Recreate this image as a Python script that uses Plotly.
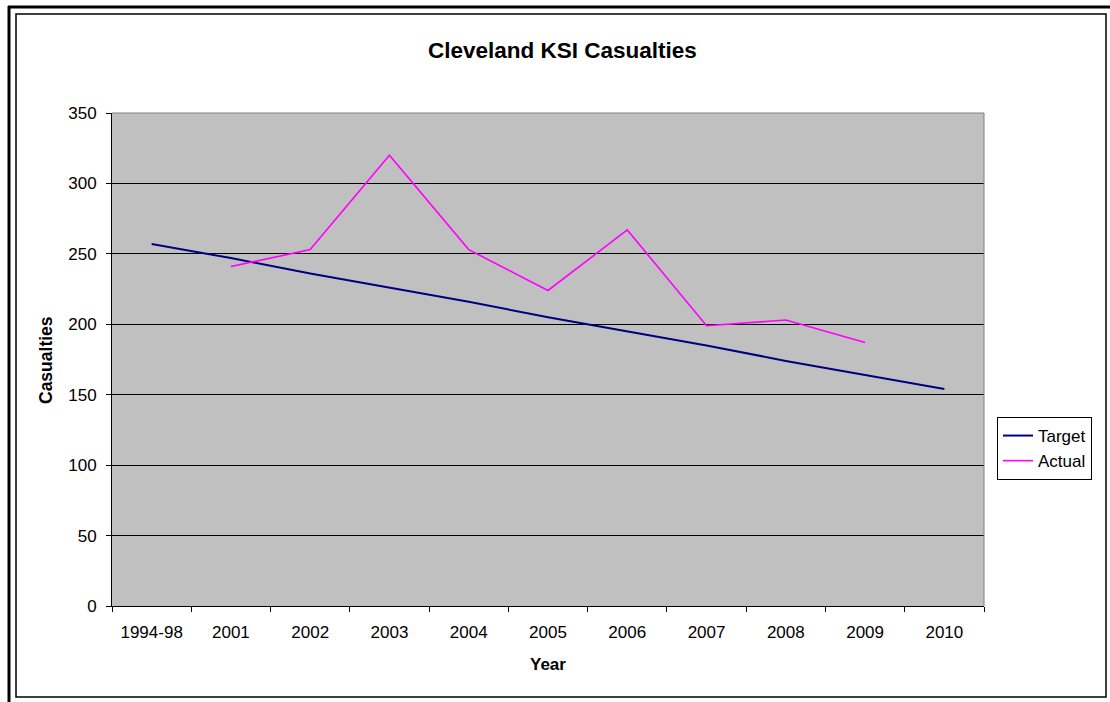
import plotly.graph_objects as go

# Data
years = ["1994-98", "2001", "2002", "2003", "2004", "2005",
         "2006", "2007", "2008", "2009", "2010"]
target = [257, 247, 236, 226, 216, 205, 195, 185, 174, 164, 154]
actual_years = ["2001", "2002", "2003", "2004", "2005",
                "2006", "2007", "2008", "2009"]
actual = [241, 253, 320, 253, 224, 267, 199, 203, 187]
y_ticks = [0, 50, 100, 150, 200, 250, 300, 350]

W, H = 1110, 702
L, R, T, B = 112, 984, 113, 606  # plot area in pixels
FONT = "Liberation Sans, Arial, sans-serif"


def px(x):
    return (x - L) / (R - L)


def py(y):
    return (B - y) / (B - T)


fig = go.Figure()
fig.add_trace(go.Scatter(x=years, y=target, mode="lines", name="Target",
                         line=dict(color="#000080", width=2)))
fig.add_trace(go.Scatter(x=actual_years, y=actual, mode="lines", name="Actual",
                         line=dict(color="#FF00FF", width=1.6)))

shapes = [
    # outer frame (left and top edges)
    dict(type="line", xref="paper", yref="paper", x0=px(9), x1=px(9),
         y0=py(6), y1=py(702), line=dict(color="black", width=3)),
    dict(type="line", xref="paper", yref="paper", x0=px(8), x1=px(1110),
         y0=py(7), y1=py(7), line=dict(color="black", width=3)),
    # chart area border
    dict(type="rect", xref="paper", yref="paper", x0=px(16), x1=px(1106),
         y0=py(14), y1=py(697), line=dict(color="black", width=1.5)),
    # plot area border, top and right
    dict(type="line", xref="paper", yref="paper", x0=0, x1=1, y0=1, y1=1,
         line=dict(color="#808080", width=1), layer="above"),
    dict(type="line", xref="paper", yref="paper", x0=1, x1=1, y0=0, y1=1,
         line=dict(color="#808080", width=1), layer="above"),
]

annotations = [
    dict(text="<b>Cleveland KSI Casualties</b>", xref="paper", yref="paper",
         x=px(562), y=py(51), showarrow=False, xanchor="center", yanchor="middle",
         font=dict(family=FONT, size=22.5, color="black")),
    dict(text="<b>Year</b>", xref="paper", yref="paper",
         x=px(548), y=py(664), showarrow=False, xanchor="center", yanchor="middle",
         font=dict(family=FONT, size=17, color="black")),
    dict(text="<b>Casualties</b>", xref="paper", yref="paper",
         x=px(46), y=py(360), showarrow=False, xanchor="center", yanchor="middle",
         textangle=-90, font=dict(family=FONT, size=17.5, color="black")),
]

fig.update_layout(
    width=W, height=H,
    margin=dict(l=L, r=W - R, t=T, b=H - B, pad=0),
    paper_bgcolor="white",
    plot_bgcolor="#C0C0C0",
    font=dict(family=FONT, size=17, color="black"),
    shapes=shapes,
    annotations=annotations,
    showlegend=True,
    legend=dict(x=px(997), y=py(417), xanchor="left", yanchor="top",
                bgcolor="white", bordercolor="black", borderwidth=1,
                font=dict(family=FONT, size=17, color="black"),
                tracegroupgap=0),
)

fig.update_xaxes(
    type="category", categoryorder="array", categoryarray=years,
    range=[-0.5, len(years) - 0.5],
    showgrid=False, zeroline=False,
    showline=True, linecolor="black", linewidth=1,
    ticks="outside", tickson="boundaries", ticklen=5, tickcolor="black",
    ticklabelstandoff=11,
    tickfont=dict(family=FONT, size=17, color="black"),
)
fig.update_yaxes(
    range=[0, 350], tickvals=y_ticks, ticktext=[str(v) for v in y_ticks],
    showgrid=True, gridcolor="black", gridwidth=1,
    zeroline=False,
    showline=True, linecolor="black", linewidth=1,
    ticks="outside", ticklen=5, tickcolor="black",
    ticklabelstandoff=6,
    tickfont=dict(family=FONT, size=17, color="black"),
)

fig.write_html("out.html")
